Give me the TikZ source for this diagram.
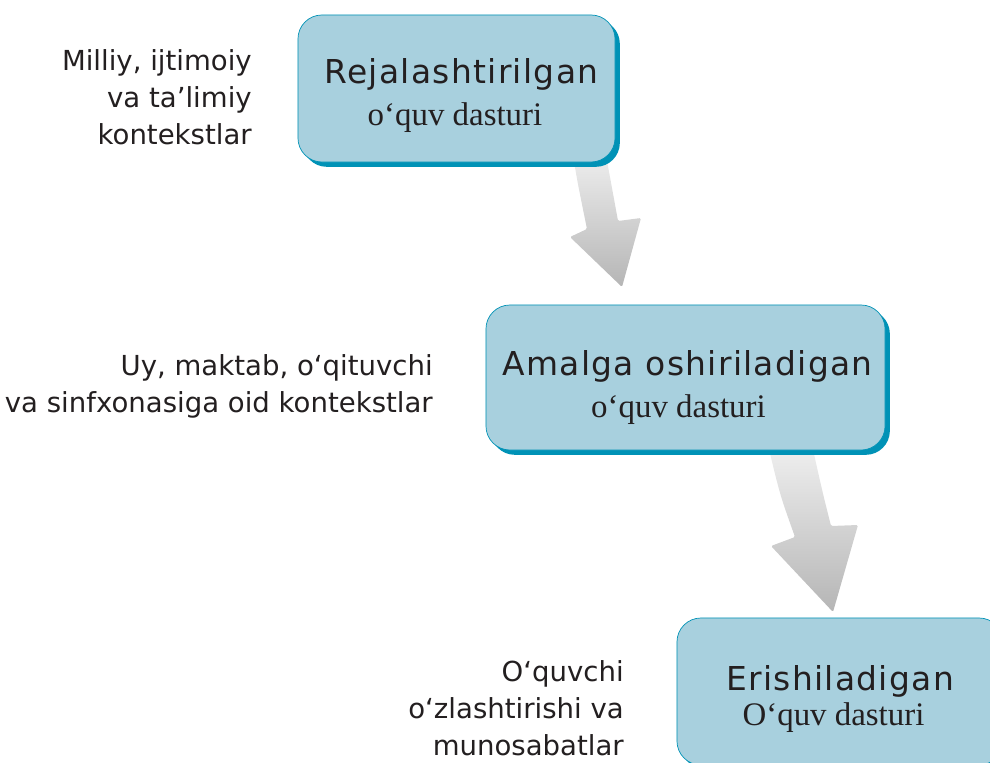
\documentclass[tikz,border=0pt]{standalone}
\usepackage{fontspec}
\setmainfont{DejaVu Sans}
\newfontfamily\ctxfont{DejaVu Sans}
\newfontfamily\headfont{DejaVu Sans}[LetterSpace=4]
\newfontfamily\subfont{Liberation Serif}
\usetikzlibrary{shadows}

\definecolor{boxfill}{RGB}{168,208,222}
\definecolor{boxedge}{RGB}{0,146,182}
\definecolor{ink}{RGB}{35,31,32}

\begin{document}
\begin{tikzpicture}[x=0.025cm,y=-0.025cm,
    stage/.style={draw=boxedge,line width=0.5pt,fill=boxfill,rounded corners=0.6cm,inner sep=0pt,
      general shadow={fill=boxedge,shadow xshift=0.12cm,shadow yshift=-0.12cm}},
    head/.style={font=\headfont\fontsize{23.4}{28}\selectfont,text=ink,anchor=base,inner sep=0pt},
    sub/.style={font=\subfont\fontsize{23.4}{28}\selectfont,text=ink,anchor=base,inner sep=0pt},
    ctx/.style={font=\ctxfont\fontsize{19.6}{26.3}\selectfont,text=ink,align=right,anchor=base east,inner sep=0pt},
    flowshade/.style={top color=gray!12,bottom color=gray!58,rounded corners=1pt}]
  \useasboundingbox (0,0) rectangle (990,762);

  \shade[flowshade] (572,150) .. controls (578,185) .. (587,229) -- (570,237) -- (622,287)
    -- (641,218) -- (618,221) .. controls (612,185) .. (605,150) -- cycle;
  \shade[flowshade] (768,445) .. controls (780,495) .. (795,537) -- (771,546) -- (833,612)
    -- (858,525) -- (831,526) .. controls (822,490) .. (812,445) -- cycle;

  \node[stage,minimum width=7.925cm,minimum height=3.675cm] (plan) at (456.5,88.5) {};
  \node[stage,minimum width=9.975cm,minimum height=3.625cm] (impl) at (685.5,377.5) {};
  \node[stage,minimum width=8.15cm,minimum height=3.675cm] (ach) at (840,691.5) {};

  \node[head] (plan-h) at (461.5,83) {Rejalashtirilgan};
  \node[sub] (plan-s) at (455,125) {o‘quv dasturi};
  \node[head] (impl-h) at (687.5,375) {Amalga oshiriladigan};
  \node[sub] (impl-s) at (678.5,417) {o‘quv dasturi};
  \node[head] (ach-h) at (840,690) {Erishiladigan};
  \node[sub] (ach-s) at (833.5,725) {O‘quv dasturi};

  \node[ctx] (ctx1) at (252,144) {Milliy, ijtimoiy\\va ta’limiy\\kontekstlar};
  \node[ctx] (ctx2) at (433,412) {Uy, maktab, o‘qituvchi\\va sinfxonasiga oid kontekstlar};
  \node[ctx] (ctx3) at (624,755) {O‘quvchi\\o‘zlashtirishi va\\munosabatlar};
\end{tikzpicture}
\end{document}
